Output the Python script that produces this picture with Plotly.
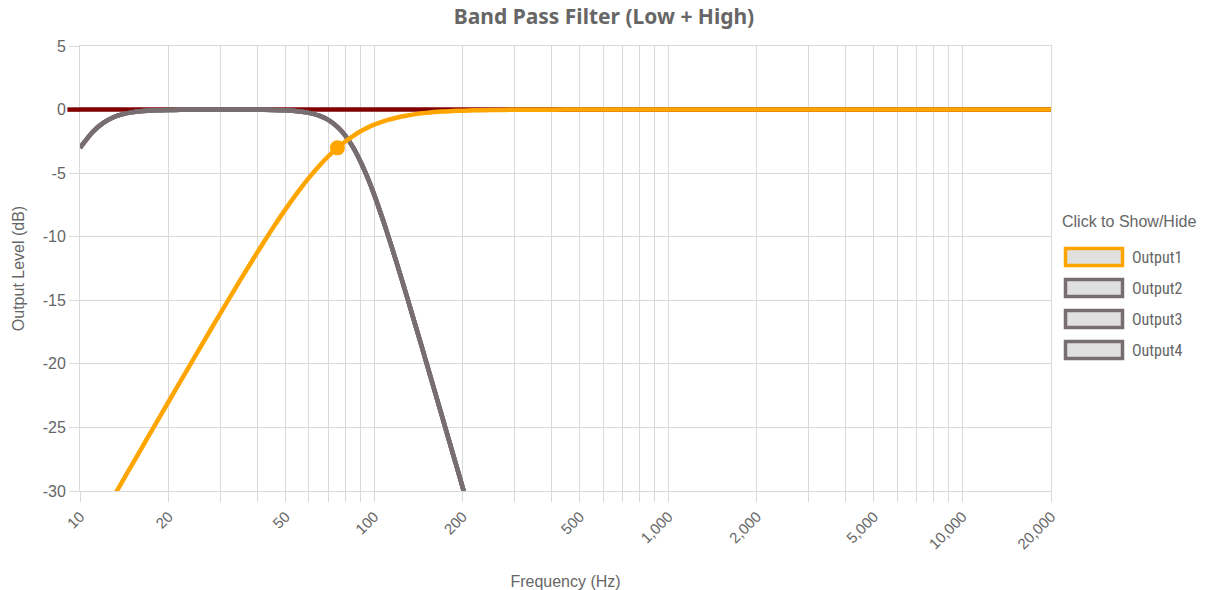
import plotly.graph_objects as go

# ---- data ----
freq_out1 = [10, 12, 13, 14, 15, 16, 18, 20, 22, 25, 28, 30, 35, 40, 45, 50, 55, 60, 65, 70, 75,
             80, 85, 90, 95, 100, 110, 120, 130, 140, 150, 160, 170, 180, 190, 200, 220, 250,
             300, 400, 500, 700, 1000, 2000, 5000, 10000, 20000]
level_out1 = [-35.0, -31.84, -30.45, -29.16, -27.96, -26.84, -24.80, -22.98, -21.34, -19.14, -17.20,
              -16.03, -13.44, -11.26, -9.40, -7.83, -6.49, -5.37, -4.43, -3.65, -3.01,
              -2.49, -2.06, -1.71, -1.42, -1.19, -0.85, -0.62, -0.46, -0.34, -0.26, -0.20, -0.16,
              -0.13, -0.10, -0.085, -0.058, -0.035, -0.017, -0.005, 0.0, 0.0, 0.0, 0.0, 0.0, 0.0, 0.0]

freq_grey = [10, 11, 12, 13, 14, 15, 16, 18, 20, 22, 25, 28, 30, 35, 40, 45, 50, 55, 60, 65, 70,
             75, 80, 85, 90, 95, 100, 110, 120, 130, 140, 150, 160, 170, 180, 190, 200, 210]
level_grey = [-3.01, -1.80, -1.05, -0.60, -0.36, -0.22, -0.14, -0.06, -0.03, -0.02, -0.01, -0.01,
              -0.01, -0.01, -0.01, -0.03, -0.06, -0.13, -0.26, -0.48, -0.83, -1.36, -2.08, -3.01,
              -4.12, -5.36, -6.69, -9.48, -12.25, -14.91, -17.42, -19.78, -22.00, -24.10, -26.08,
              -27.95, -29.73, -31.43]

freq_ref = [10, 20000]
level_ref = [0, 0]

marker_freq = [75]
marker_level = [-3.01]

series_names = ["Output1", "Output2", "Output3", "Output4"]
series_colors = ["#FFA500", "#786e72", "#786e72", "#786e72"]

x_tickvals = [10, 20, 50, 100, 200, 500, 1000, 2000, 5000, 10000, 20000]
x_ticktext = ["10", "20", "50", "100", "200", "500", "1,000", "2,000", "5,000", "10,000", "20,000"]
x_minorvals = [30, 40, 60, 70, 80, 90, 300, 400, 600, 700, 800, 900,
               3000, 4000, 6000, 7000, 8000, 9000]
y_tickvals = [5, 0, -5, -10, -15, -20, -25, -30]
y_ticktext = ["5", "0", "-5", "-10", "-15", "-20", "-25", "-30"]

GRID = "#d9d9d9"
TXT = "#666666"

fig = go.Figure()

# flat 0 dB reference line (dark red), drawn first
fig.add_trace(go.Scatter(x=freq_ref, y=level_ref, mode="lines",
                         line=dict(color="#800000", width=4.5),
                         showlegend=False, hoverinfo="skip"))

# grey outputs 2..4 (identical curves)
for name, col in zip(series_names[1:][::-1], series_colors[1:][::-1]):
    fig.add_trace(go.Scatter(x=freq_grey, y=level_grey, mode="lines", name=name,
                             line=dict(color=col, width=4.5, shape="spline", smoothing=0.6),
                             showlegend=False))

# orange output 1
fig.add_trace(go.Scatter(x=freq_out1, y=level_out1, mode="lines", name=series_names[0],
                         line=dict(color=series_colors[0], width=4.5, shape="spline", smoothing=0.6),
                         showlegend=False))
fig.add_trace(go.Scatter(x=marker_freq, y=marker_level, mode="markers",
                         marker=dict(color=series_colors[0], size=15),
                         showlegend=False, hoverinfo="skip"))

# left stub of the 0 dB line extending into the margin
fig.add_shape(type="line", xref="paper", yref="y", x0=-0.013, x1=0, y0=0, y1=0,
              line=dict(color="#800000", width=4.5), layer="above")

# custom legend (boxes)
L, W, T, H = 80, 971, 46, 445
def px2x(px):
    return (px - L) / W
def py2y(py):
    return (T + H - py) / H

fig.add_annotation(xref="paper", yref="paper", x=px2x(1060), y=py2y(222), xanchor="left",
                   yanchor="middle", text="Click to Show/Hide", showarrow=False,
                   font=dict(family="Liberation Sans, Arial", size=16, color=TXT))
for i, (name, col) in enumerate(zip(series_names, series_colors)):
    cy = 257 + i * 31
    fig.add_shape(type="rect", xref="paper", yref="paper",
                  x0=px2x(1065.5), x1=px2x(1122.5), y0=py2y(cy - 8.5), y1=py2y(cy + 8.5),
                  fillcolor="#e0e0e0", line=dict(color=col, width=3.5))
    fig.add_annotation(xref="paper", yref="paper", x=px2x(1130), y=py2y(cy), xanchor="left",
                       yanchor="middle", text=name, showarrow=False,
                       font=dict(family="Liberation Sans Narrow, Roboto Condensed, Roboto",
                                 size=16, color=TXT))

fig.update_layout(
    width=1208, height=590,
    margin=dict(l=L, r=1208 - L - W, t=T, b=590 - T - H),
    paper_bgcolor="white", plot_bgcolor="white",
    title=dict(text="<b>Band Pass Filter (Low + High)</b>", x=0.5, xanchor="center",
               y=0.972, yanchor="middle",
               font=dict(family="Noto Sans", size=21, color=TXT)),
    showlegend=False,
    font=dict(family="Liberation Sans, Arial", color=TXT),
)

fig.update_xaxes(
    type="log", range=[1, 4.30103], automargin=False,
    tickmode="array", tickvals=x_tickvals, ticktext=x_ticktext, tickangle=-45,
    tickfont=dict(size=15, color=TXT),
    ticks="outside", ticklen=10, tickcolor=GRID, tickwidth=1,
    showgrid=True, gridcolor=GRID, gridwidth=1,
    minor=dict(tickmode="array", tickvals=x_minorvals, ticks="outside", ticklen=10,
               tickcolor=GRID, showgrid=True, gridcolor=GRID, gridwidth=1),
    showline=True, linecolor=GRID, linewidth=1, mirror=True,
    zeroline=False,
    title=dict(text="Frequency (Hz)", font=dict(size=16, color=TXT), standoff=28),
)
fig.update_yaxes(
    range=[-30, 5], automargin=False,
    tickmode="array", tickvals=y_tickvals, ticktext=y_ticktext,
    tickfont=dict(size=16, color=TXT),
    ticks="outside", ticklen=10, tickcolor=GRID, tickwidth=1,
    showgrid=True, gridcolor=GRID, gridwidth=1,
    showline=True, linecolor=GRID, linewidth=1, mirror=True,
    zeroline=False,
    title=dict(text="Output Level (dB)", font=dict(size=16, color=TXT), standoff=14),
)

fig.write_html("out.html", config={"displayModeBar": False},
               post_script="document.body.style.margin='0px';")
